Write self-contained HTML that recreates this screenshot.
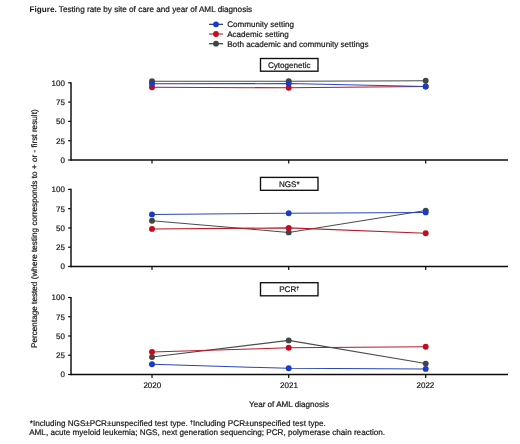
<!DOCTYPE html><html><head><meta charset="utf-8"><style>html,body{margin:0;padding:0;background:#fff;}svg{display:block;filter:blur(0.38px);}text{font-family:"Liberation Sans",sans-serif;text-rendering:geometricPrecision;fill:#161616;stroke:#161616;stroke-width:0.2px;}</style></head><body>
<svg width="520" height="444" viewBox="0 0 520 444">
<rect width="520" height="444" fill="#fff"/>
<line x1="209" y1="24.3" x2="223" y2="24.3" stroke="#1c2c78" stroke-width="1.15"/>
<circle cx="216" cy="24.3" r="2.9" fill="#1a3ac8"/>
<line x1="209" y1="34.0" x2="223" y2="34.0" stroke="#a83040" stroke-width="1.15"/>
<circle cx="216" cy="34.0" r="2.9" fill="#c40a1c"/>
<line x1="209" y1="43.7" x2="223" y2="43.7" stroke="#2a3434" stroke-width="1.15"/>
<circle cx="216" cy="43.7" r="2.9" fill="#3f4545"/>
<line x1="71.0" y1="82.2" x2="71.0" y2="160.7" stroke="#1c1c1c" stroke-width="1.55"/>
<line x1="71.0" y1="160.0" x2="508" y2="160.0" stroke="#0c0c0c" stroke-width="1.45"/>
<line x1="68.1" y1="160.00" x2="71.0" y2="160.00" stroke="#0c0c0c" stroke-width="1.2"/>
<line x1="68.1" y1="140.70" x2="71.0" y2="140.70" stroke="#0c0c0c" stroke-width="1.2"/>
<line x1="68.1" y1="121.40" x2="71.0" y2="121.40" stroke="#0c0c0c" stroke-width="1.2"/>
<line x1="68.1" y1="102.10" x2="71.0" y2="102.10" stroke="#0c0c0c" stroke-width="1.2"/>
<line x1="68.1" y1="82.80" x2="71.0" y2="82.80" stroke="#0c0c0c" stroke-width="1.2"/>
<line x1="152.0" y1="160.0" x2="152.0" y2="163.4" stroke="#0c0c0c" stroke-width="1.2"/>
<line x1="288.7" y1="160.0" x2="288.7" y2="163.4" stroke="#0c0c0c" stroke-width="1.2"/>
<line x1="425.7" y1="160.0" x2="425.7" y2="163.4" stroke="#0c0c0c" stroke-width="1.2"/>
<rect x="260.5" y="58.5" width="57.5" height="12.700000000000003" fill="#fff" stroke="#101010" stroke-width="1.35"/>
<polyline points="152.0,81.3 288.7,81.3 425.7,80.8" fill="none" stroke="#4a4c4c" stroke-width="1.05"/>
<circle cx="152.0" cy="81.3" r="2.95" fill="#3f4545"/>
<circle cx="288.7" cy="81.3" r="2.95" fill="#3f4545"/>
<circle cx="425.7" cy="80.8" r="2.95" fill="#3f4545"/>
<polyline points="152.0,87.2 288.7,87.8 425.7,86.5" fill="none" stroke="#b81a2a" stroke-width="1.05"/>
<circle cx="152.0" cy="87.2" r="2.95" fill="#c40a1c"/>
<circle cx="288.7" cy="87.8" r="2.95" fill="#c40a1c"/>
<circle cx="425.7" cy="86.5" r="2.95" fill="#c40a1c"/>
<polyline points="152.0,83.8 288.7,83.6 425.7,86.5" fill="none" stroke="#2a46b8" stroke-width="1.05"/>
<circle cx="152.0" cy="83.8" r="2.95" fill="#1a3ac8"/>
<circle cx="288.7" cy="83.6" r="2.95" fill="#1a3ac8"/>
<circle cx="425.7" cy="86.5" r="2.95" fill="#1a3ac8"/>
<line x1="71.0" y1="188.8" x2="71.0" y2="267.2" stroke="#1c1c1c" stroke-width="1.55"/>
<line x1="71.0" y1="266.5" x2="508" y2="266.5" stroke="#0c0c0c" stroke-width="1.45"/>
<line x1="68.1" y1="266.50" x2="71.0" y2="266.50" stroke="#0c0c0c" stroke-width="1.2"/>
<line x1="68.1" y1="247.22" x2="71.0" y2="247.22" stroke="#0c0c0c" stroke-width="1.2"/>
<line x1="68.1" y1="227.95" x2="71.0" y2="227.95" stroke="#0c0c0c" stroke-width="1.2"/>
<line x1="68.1" y1="208.68" x2="71.0" y2="208.68" stroke="#0c0c0c" stroke-width="1.2"/>
<line x1="68.1" y1="189.40" x2="71.0" y2="189.40" stroke="#0c0c0c" stroke-width="1.2"/>
<line x1="152.0" y1="266.5" x2="152.0" y2="269.9" stroke="#0c0c0c" stroke-width="1.2"/>
<line x1="288.7" y1="266.5" x2="288.7" y2="269.9" stroke="#0c0c0c" stroke-width="1.2"/>
<line x1="425.7" y1="266.5" x2="425.7" y2="269.9" stroke="#0c0c0c" stroke-width="1.2"/>
<rect x="260.5" y="177.4" width="57.5" height="12.900000000000006" fill="#fff" stroke="#101010" stroke-width="1.35"/>
<polyline points="152.0,220.7 288.7,232.4 425.7,210.6" fill="none" stroke="#4a4c4c" stroke-width="1.05"/>
<circle cx="152.0" cy="220.7" r="2.95" fill="#3f4545"/>
<circle cx="288.7" cy="232.4" r="2.95" fill="#3f4545"/>
<circle cx="425.7" cy="210.6" r="2.95" fill="#3f4545"/>
<polyline points="152.0,228.9 288.7,227.9 425.7,233.2" fill="none" stroke="#b81a2a" stroke-width="1.05"/>
<circle cx="152.0" cy="228.9" r="2.95" fill="#c40a1c"/>
<circle cx="288.7" cy="227.9" r="2.95" fill="#c40a1c"/>
<circle cx="425.7" cy="233.2" r="2.95" fill="#c40a1c"/>
<polyline points="152.0,214.4 288.7,213.3 425.7,212.4" fill="none" stroke="#2a46b8" stroke-width="1.05"/>
<circle cx="152.0" cy="214.4" r="2.95" fill="#1a3ac8"/>
<circle cx="288.7" cy="213.3" r="2.95" fill="#1a3ac8"/>
<circle cx="425.7" cy="212.4" r="2.95" fill="#1a3ac8"/>
<line x1="71.0" y1="296.9" x2="71.0" y2="375.2" stroke="#1c1c1c" stroke-width="1.55"/>
<line x1="71.0" y1="374.5" x2="508" y2="374.5" stroke="#0c0c0c" stroke-width="1.45"/>
<line x1="68.1" y1="374.50" x2="71.0" y2="374.50" stroke="#0c0c0c" stroke-width="1.2"/>
<line x1="68.1" y1="355.25" x2="71.0" y2="355.25" stroke="#0c0c0c" stroke-width="1.2"/>
<line x1="68.1" y1="336.00" x2="71.0" y2="336.00" stroke="#0c0c0c" stroke-width="1.2"/>
<line x1="68.1" y1="316.75" x2="71.0" y2="316.75" stroke="#0c0c0c" stroke-width="1.2"/>
<line x1="68.1" y1="297.50" x2="71.0" y2="297.50" stroke="#0c0c0c" stroke-width="1.2"/>
<line x1="152.0" y1="374.5" x2="152.0" y2="377.9" stroke="#0c0c0c" stroke-width="1.2"/>
<line x1="288.7" y1="374.5" x2="288.7" y2="377.9" stroke="#0c0c0c" stroke-width="1.2"/>
<line x1="425.7" y1="374.5" x2="425.7" y2="377.9" stroke="#0c0c0c" stroke-width="1.2"/>
<rect x="260.5" y="282.7" width="57.5" height="13.100000000000023" fill="#fff" stroke="#101010" stroke-width="1.35"/>
<polyline points="152.0,357.1 288.7,340.4 425.7,363.6" fill="none" stroke="#4a4c4c" stroke-width="1.05"/>
<circle cx="152.0" cy="357.1" r="2.95" fill="#3f4545"/>
<circle cx="288.7" cy="340.4" r="2.95" fill="#3f4545"/>
<circle cx="425.7" cy="363.6" r="2.95" fill="#3f4545"/>
<polyline points="152.0,352.0 288.7,347.8 425.7,346.7" fill="none" stroke="#b81a2a" stroke-width="1.05"/>
<circle cx="152.0" cy="352.0" r="2.95" fill="#c40a1c"/>
<circle cx="288.7" cy="347.8" r="2.95" fill="#c40a1c"/>
<circle cx="425.7" cy="346.7" r="2.95" fill="#c40a1c"/>
<polyline points="152.0,364.3 288.7,368.3 425.7,368.9" fill="none" stroke="#2a46b8" stroke-width="1.05"/>
<circle cx="152.0" cy="364.3" r="2.95" fill="#1a3ac8"/>
<circle cx="288.7" cy="368.3" r="2.95" fill="#1a3ac8"/>
<circle cx="425.7" cy="368.9" r="2.95" fill="#1a3ac8"/>
<text x="29.50" y="11.60" font-size="8.17" textLength="222.61" lengthAdjust="spacingAndGlyphs"><tspan font-weight="bold" stroke-width="0">Figure.</tspan> Testing rate by site of care and year of AML diagnosis</text>
<text x="227.20" y="27.00" font-size="8.08" textLength="66.91" lengthAdjust="spacingAndGlyphs">Community setting</text>
<text x="227.20" y="36.70" font-size="8.08" textLength="61.52" lengthAdjust="spacingAndGlyphs">Academic setting</text>
<text x="227.20" y="46.70" font-size="8.14" textLength="141.36" lengthAdjust="spacingAndGlyphs">Both academic and community settings</text>
<text x="65.00" y="162.90" font-size="8.0" textLength="4.45" lengthAdjust="spacingAndGlyphs" text-anchor="end">0</text>
<text x="65.00" y="143.60" font-size="8.0" textLength="8.91" lengthAdjust="spacingAndGlyphs" text-anchor="end">25</text>
<text x="65.00" y="124.30" font-size="8.0" textLength="8.91" lengthAdjust="spacingAndGlyphs" text-anchor="end">50</text>
<text x="65.00" y="105.00" font-size="8.0" textLength="8.91" lengthAdjust="spacingAndGlyphs" text-anchor="end">75</text>
<text x="65.00" y="85.70" font-size="8.0" textLength="13.36" lengthAdjust="spacingAndGlyphs" text-anchor="end">100</text>
<text x="289.25" y="67.75" font-size="8.1" textLength="42.75" lengthAdjust="spacingAndGlyphs" text-anchor="middle">Cytogenetic</text>
<text x="65.00" y="269.40" font-size="8.0" textLength="4.45" lengthAdjust="spacingAndGlyphs" text-anchor="end">0</text>
<text x="65.00" y="250.12" font-size="8.0" textLength="8.91" lengthAdjust="spacingAndGlyphs" text-anchor="end">25</text>
<text x="65.00" y="230.85" font-size="8.0" textLength="8.91" lengthAdjust="spacingAndGlyphs" text-anchor="end">50</text>
<text x="65.00" y="211.58" font-size="8.0" textLength="8.91" lengthAdjust="spacingAndGlyphs" text-anchor="end">75</text>
<text x="65.00" y="192.30" font-size="8.0" textLength="13.36" lengthAdjust="spacingAndGlyphs" text-anchor="end">100</text>
<text x="289.25" y="186.75" font-size="8.1" textLength="20.70" lengthAdjust="spacingAndGlyphs" text-anchor="middle">NGS*</text>
<text x="65.00" y="377.40" font-size="8.0" textLength="4.45" lengthAdjust="spacingAndGlyphs" text-anchor="end">0</text>
<text x="65.00" y="358.15" font-size="8.0" textLength="8.91" lengthAdjust="spacingAndGlyphs" text-anchor="end">25</text>
<text x="65.00" y="338.90" font-size="8.0" textLength="8.91" lengthAdjust="spacingAndGlyphs" text-anchor="end">50</text>
<text x="65.00" y="319.65" font-size="8.0" textLength="8.91" lengthAdjust="spacingAndGlyphs" text-anchor="end">75</text>
<text x="65.00" y="300.40" font-size="8.0" textLength="13.36" lengthAdjust="spacingAndGlyphs" text-anchor="end">100</text>
<text x="289.25" y="292.15" font-size="8.1" textLength="20.16" lengthAdjust="spacingAndGlyphs" text-anchor="middle">PCR<tspan font-size="5.5" dy="-2.6">†</tspan></text>
<text x="152.30" y="387.60" font-size="8.0" textLength="17.80" lengthAdjust="spacingAndGlyphs" text-anchor="middle">2020</text>
<text x="289.00" y="387.60" font-size="8.0" textLength="17.80" lengthAdjust="spacingAndGlyphs" text-anchor="middle">2021</text>
<text x="425.40" y="387.60" font-size="8.0" textLength="17.80" lengthAdjust="spacingAndGlyphs" text-anchor="middle">2022</text>
<text x="289.00" y="407.00" font-size="8.1" textLength="79.95" lengthAdjust="spacingAndGlyphs" text-anchor="middle">Year of AML diagnosis</text>
<text x="0.00" y="0.00" font-size="8.2" textLength="238.69" lengthAdjust="spacingAndGlyphs" text-anchor="middle" transform="translate(36.7,228.7) rotate(-90)">Percentage tested (where testing corresponds to + or - first result)</text>
<text x="29.80" y="426.10" font-size="8.13" textLength="296.02" lengthAdjust="spacingAndGlyphs">*Including NGS±PCR±unspecified test type. <tspan font-size="5.5" dy="-2.6">†</tspan><tspan dy="2.6">Including PCR±unspecified test type.</tspan></text>
<text x="29.20" y="435.20" font-size="8.15" textLength="355.89" lengthAdjust="spacingAndGlyphs">AML, acute myeloid leukemia; NGS, next generation sequencing; PCR, polymerase chain reaction.</text>
</svg></body></html>
